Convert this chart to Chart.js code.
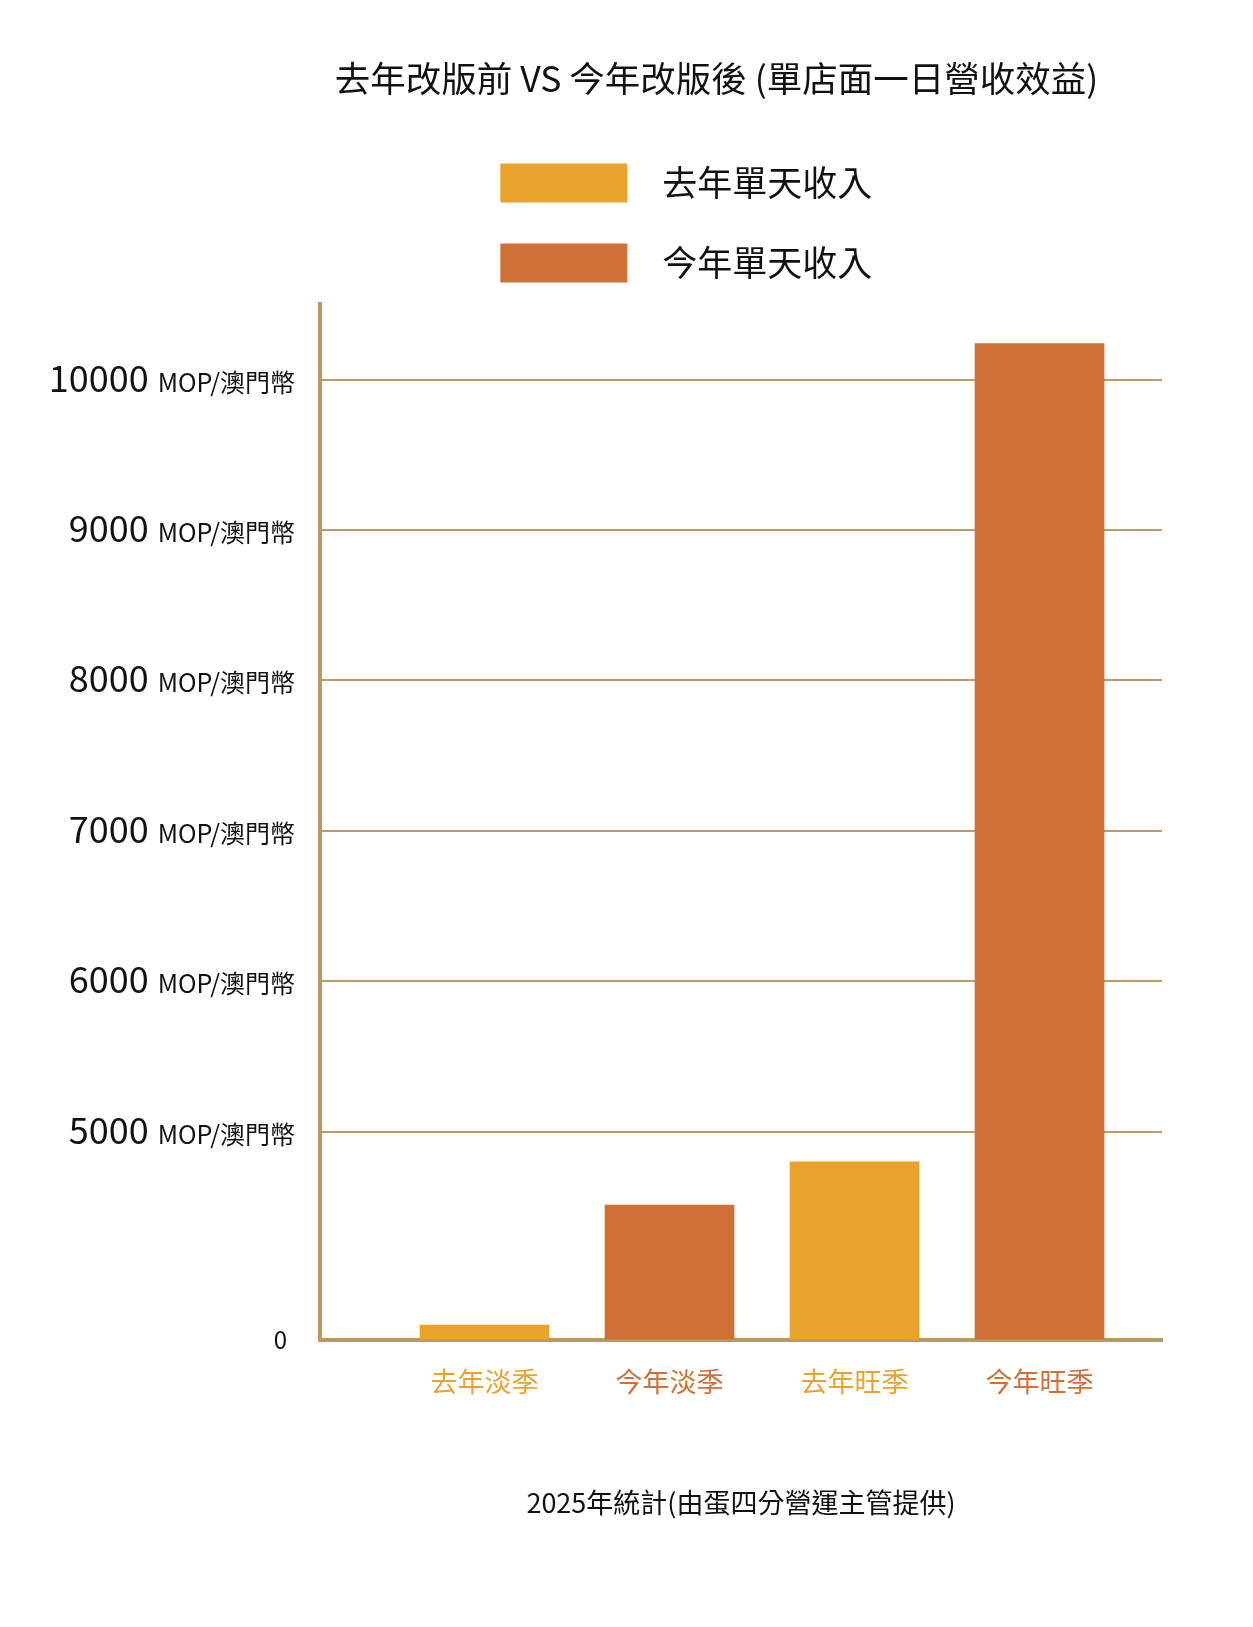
<!DOCTYPE html>
<html lang="zh-Hant">
<head>
<meta charset="utf-8">
<title>去年改版前 VS 今年改版後</title>
<script src="https://cdn.jsdelivr.net/npm/chart.js@4.4.1/dist/chart.umd.min.js"></script>
<style>
    html, body { margin: 0; padding: 0; background: #fff; }
    #chartIncome { display: block; }
</style>
</head>
<body>
<canvas id="chartIncome" width="1253" height="1627"></canvas>
<script>
const titleText = '去年改版前 VS 今年改版後 (單店面一日營收效益)'
const footerText = '2025年統計(由蛋四分營運主管提供)'
const categories = ['去年淡季', '今年淡季', '去年旺季', '今年旺季']
const seriesLabels = ['去年單天收入', '今年單天收入']
const lastYearDaily = [360, null, 4280, null]
const thisYearDaily = [null, 3240, null, 10240]
const yTicks = [0, 5000, 6000, 7000, 8000, 9000, 10000]
const yUnit = 'MOP/澳門幣'

const lastYearColor = '#E9A32C'
const thisYearColor = '#CF7036'
const axisColor = '#B8995F'
const gridColor = '#BC9C66'
const textColor = '#111'
const fontFamily = '"Noto Sans CJK TC", "Noto Sans", sans-serif'

// the axis is squeezed below 5000: 0-5000 only takes about a fifth of the height
const breakValue = 5000
const lowerShare = 0.201

class BrokenLinearScale extends Chart.LinearScale {
    getPixelForValue(value) {
        if (value === null || value === undefined) return NaN
        let d
        if (value <= breakValue) {
            d = lowerShare * (value - this.min) / (breakValue - this.min)
        } else {
            d = lowerShare + (1 - lowerShare) * (value - breakValue) / (this.max - breakValue)
        }
        return this.getPixelForDecimal(d)
    }
    getValueForPixel(pixel) {
        const d = this.getDecimalForPixel(pixel)
        if (d <= lowerShare) return this.min + d / lowerShare * (breakValue - this.min)
        return breakValue + (d - lowerShare) / (1 - lowerShare) * (this.max - breakValue)
    }
}
BrokenLinearScale.id = 'brokenLinear'
Chart.register(BrokenLinearScale)

Chart.defaults.font.family = fontFamily
Chart.defaults.color = textColor

const toPoints = values => values
    .map((y, x) => ({x, y}))
    .filter(p => p.y !== null)

// y labels: big number + small unit on the same baseline
const yLabels = {
    id: 'yLabels',
    afterDraw(chart) {
        const {ctx, scales: {y}} = chart
        ctx.save()
        ctx.fillStyle = textColor
        ctx.textAlign = 'right'
        yTicks.forEach(v => {
            const py = y.getPixelForValue(v)
            if (v === 0) {
                ctx.font = '24px ' + fontFamily
                ctx.textBaseline = 'middle'
                ctx.fillText('0', y.right - 33, py)
                return
            }
            ctx.textBaseline = 'alphabetic'
            ctx.font = '25px ' + fontFamily
            ctx.fillText(yUnit, y.right - 25, py + 12)
            const w = ctx.measureText(yUnit).width
            ctx.font = '36px ' + fontFamily
            ctx.fillText(String(v), y.right - 25 - w - 9, py + 12)
        })
        ctx.restore()
    }
}

new Chart(document.getElementById('chartIncome'), {
    type: 'bar',
    data: {
        datasets: [{
            label: seriesLabels[0],
            data: toPoints(lastYearDaily),
            backgroundColor: lastYearColor,
            borderWidth: 0
        }, {
            label: seriesLabels[1],
            data: toPoints(thisYearDaily),
            backgroundColor: thisYearColor,
            borderWidth: 0
        }]
    },
    options: {
        responsive: false,
        animation: false,
        grouped: false,
        barThickness: 129,
        layout: {
            padding: {left: 271, right: 91, top: 0, bottom: 108}
        },
        plugins: {
            tooltip: {enabled: false},
            title: {
                display: true,
                text: titleText,
                color: textColor,
                font: {size: 35.5, weight: 'normal'},
                padding: {top: 57, bottom: 23}
            },
            legend: {
                position: 'top',
                weight: 1800,
                labels: {
                    boxWidth: 127,
                    boxHeight: 39,
                    padding: 41,
                    color: textColor,
                    font: {size: 35},
                    // pad the text so each entry sits on its own row
                    generateLabels(chart) {
                        return Chart.defaults.plugins.legend.labels.generateLabels(chart)
                            .map(item => ({...item, text: '\u2002' + item.text + '\u3000\u2002 '}))
                    }
                }
            },
            // empty subtitle, only used as a gap between legend and plot
            subtitle: {
                display: true,
                position: 'top',
                weight: 1500,
                text: '',
                font: {size: 0},
                padding: {top: 11, bottom: 0}
            }
        },
        scales: {
            x: {
                type: 'linear',
                offset: false,
                min: -0.889,
                max: 3.662,
                z: 1,
                afterBuildTicks: scale => {
                    scale.ticks = categories.map((c, i) => ({value: i}))
                },
                grid: {display: false, drawTicks: false},
                border: {display: true, color: axisColor, width: 4},
                ticks: {
                    padding: 25,
                    autoSkip: false,
                    maxRotation: 0,
                    font: {size: 27},
                    color: ctx => ctx.index % 2 === 0 ? lastYearColor : thisYearColor,
                    callback: value => categories[value]
                },
                title: {
                    display: true,
                    text: footerText,
                    color: textColor,
                    font: {size: 27},
                    padding: {top: 64, bottom: 0}
                }
            },
            y: {
                type: 'brokenLinear',
                min: 0,
                max: 10505,
                z: 1,
                afterBuildTicks: scale => {
                    scale.ticks = yTicks.map(v => ({value: v}))
                },
                afterFit: scale => {
                    scale.width = 49
                },
                grid: {color: gridColor, lineWidth: 2, drawTicks: false},
                border: {display: true, color: axisColor, width: 4},
                ticks: {display: false}
            }
        }
    },
    plugins: [yLabels]
})
</script>
</body>
</html>
